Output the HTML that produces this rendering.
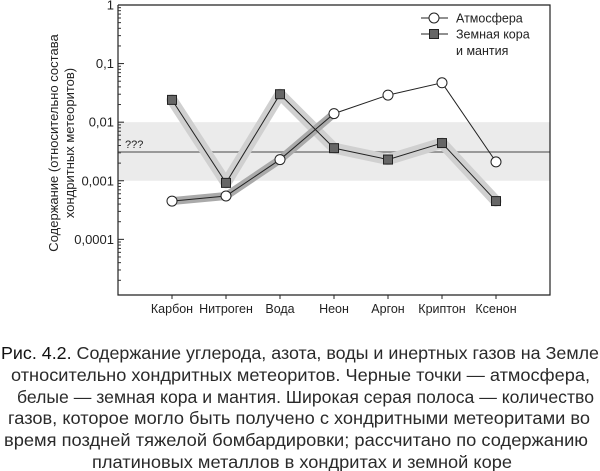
<!DOCTYPE html>
<html><head><meta charset="utf-8"><style>
html,body{margin:0;padding:0;background:#fff;width:600px;height:471px;overflow:hidden}
svg{display:block;font-family:"Liberation Sans",sans-serif}
</style></head><body>
<svg id="chart" width="600" height="471" viewBox="0 0 600 471" xmlns="http://www.w3.org/2000/svg">
<g id="plot"></g>
<g id="caption" font-size="17.5" fill="#2a2a2a">
<text x="1" y="359" textLength="598" lengthAdjust="spacingAndGlyphs"><tspan fill="#111">Рис. 4.2.</tspan> Содержание углерода, азота, воды и инертных газов на Земле</text>
<text x="11" y="381" textLength="579" lengthAdjust="spacingAndGlyphs">относительно хондритных метеоритов. Черные точки — атмосфера,</text>
<text x="17" y="403" textLength="577" lengthAdjust="spacingAndGlyphs">белые — земная кора и мантия. Широкая серая полоса — количество</text>
<text x="8" y="424" textLength="582" lengthAdjust="spacingAndGlyphs">газов, которое могло быть получено с хондритными метеоритами во</text>
<text x="4" y="446" textLength="584" lengthAdjust="spacingAndGlyphs">время поздней тяжелой бомбардировки; рассчитано по содержанию</text>
<text x="92" y="468" textLength="420" lengthAdjust="spacingAndGlyphs">платиновых металлов в хондритах и земной коре</text>
</g>
</svg>
<script>
const categories = ["Карбон","Нитроген","Вода","Неон","Аргон","Криптон","Ксенон"];
const atmosphere = [0.00045,0.00055,0.0023,0.014,0.029,0.047,0.0021];
const crust = [0.024,0.00092,0.030,0.0036,0.0023,0.0044,0.00045];
const yTicks = [1,0.1,0.01,0.001,0.0001];
const yTickLabels = ["1","0,1","0,01","0,001","0,0001"];
const bandLow = 0.001, bandHigh = 0.01, bandMid = 0.0031;

const NS="http://www.w3.org/2000/svg";
const L=118,R=550,T=5,B=295,LOGMIN=-4.95;
const x=i=>172+i*54;
const y=v=>T+(-Math.log10(v))/(-LOGMIN)*(B-T);
const plot=document.getElementById('plot');
function mk(tag,attrs,parent){const e=document.createElementNS(NS,tag);for(const k in attrs)e.setAttribute(k,attrs[k]);(parent||plot).appendChild(e);return e;}

let e=mk('rect',{x:L,y:y(bandHigh),width:R-L,height:y(bandLow)-y(bandHigh),fill:'#ebebeb'});


e=mk('line',{x1:L,x2:R,y1:y(bandMid),y2:y(bandMid),stroke:'#999','stroke-width':2});


e=mk('text',{x:125,y:y(bandMid)-4,'font-size':11,fill:'#222'});e.textContent='???';



const pts=(arr,idx)=>idx.map(i=>x(i)+','+y(arr[i])).join(' ');
e=mk('polyline',{points:pts(crust,[0,1,2,3,4,5,6]),fill:'none',stroke:'#d0d0d0','stroke-width':11,'stroke-linejoin':'round','stroke-linecap':'round'});


e=mk('polyline',{points:pts(atmosphere,[0,1,2,3]),fill:'none',stroke:'#aaa','stroke-width':8,'stroke-linejoin':'round','stroke-linecap':'round'});



e=mk('path',{d:`M${L},${T} V${B} H${R} V${T} H${L}`,fill:'none',stroke:'#222','stroke-width':1.2});


for(let d=0;d>LOGMIN;d--){for(let m=2;m<10;m++){const val=m*Math.pow(10,d-1);if(Math.log10(val)<LOGMIN)continue;
 const yy=y(val);e=mk('line',{x1:L,x2:L+3,y1:yy,y2:yy,stroke:'#333','stroke-width':1});
 
 }}
yTicks.forEach((v,i)=>{e=mk('line',{x1:L,x2:L+6,y1:y(v),y2:y(v),stroke:'#222'});
 
 
 e=mk('text',{x:114,y:y(v)+4.5,'font-size':13,'text-anchor':'end',fill:'#222'});e.textContent=yTickLabels[i];
 
 });
categories.forEach((c,i)=>{e=mk('line',{x1:x(i),x2:x(i),y1:B,y2:B+4,stroke:'#222'});
 
 
 e=mk('text',{x:x(i),y:B+18,'font-size':12.5,'text-anchor':'middle',fill:'#222'});e.textContent=c;
 
 });
e=mk('text',{transform:'translate(58,143) rotate(-90)','font-size':13,'text-anchor':'middle',fill:'#222'});e.textContent='Содержание (относительно состава';


e=mk('text',{transform:'translate(74,143) rotate(-90)','font-size':13,'text-anchor':'middle',fill:'#222'});e.textContent='хондритных метеоритов)';



e=mk('polyline',{points:pts(crust,[0,1,2,3,4,5,6]),fill:'none',stroke:'#222','stroke-width':1});


e=mk('polyline',{points:pts(atmosphere,[0,1,2,3,4,5,6]),fill:'none',stroke:'#222','stroke-width':1});


crust.forEach((v,i)=>{e=mk('rect',{x:x(i)-4.5,y:y(v)-4.5,width:9,height:9,fill:'#666',stroke:'#222','stroke-width':1});
 
 });
atmosphere.forEach((v,i)=>{e=mk('circle',{cx:x(i),cy:y(v),r:5,fill:'#fff',stroke:'#222','stroke-width':1});
 
 });

const lg=mk('g',{});


mk('line',{x1:421,x2:448,y1:18,y2:18,stroke:'#222'},lg);
mk('circle',{cx:434,cy:18,r:5,fill:'#fff',stroke:'#222'},lg);
e=mk('text',{x:456,y:22.5,'font-size':12.5,fill:'#222'},lg);e.textContent='Атмосфера';


mk('line',{x1:421,x2:448,y1:34,y2:34,stroke:'#222'},lg);
mk('rect',{x:429.5,y:29.5,width:9,height:9,fill:'#666',stroke:'#222'},lg);
e=mk('text',{x:456,y:38.5,'font-size':12.5,fill:'#222'},lg);e.textContent='Земная кора';


e=mk('text',{x:456,y:55,'font-size':12.5,fill:'#222'},lg);e.textContent='и мантия';


</script>
</body></html>
